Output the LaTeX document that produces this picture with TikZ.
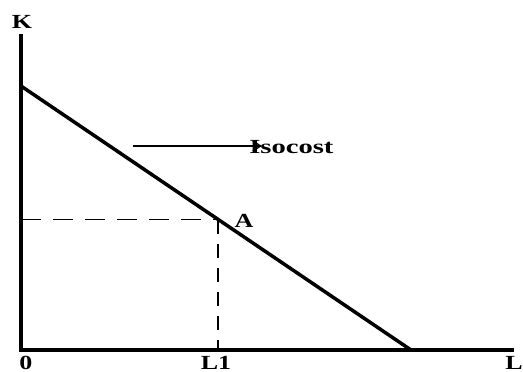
\documentclass[tikz,border=0pt]{standalone}
\usepackage{fontspec}
\setmainfont{Liberation Serif}
\usetikzlibrary{arrows.meta}
\tikzset{
  axis/.style={line width=3.5pt, line cap=rect},
  budget/.style={line width=3.5pt},
  guide/.style={line width=1.2pt, dash pattern=on 20pt off 12pt},
  vguide/.style={line width=1.2pt, dash pattern=on 14pt off 10pt},
  flow/.style={-{Straight Barb[length=8pt,width=10pt]}, line width=1.3pt},
  lbl/.style={inner sep=0pt, anchor=base, xscale=1.3,
    font=\fontsize{20}{22}\selectfont\bfseries}
}
\begin{document}
\begin{tikzpicture}[x=1pt, y=-1pt]
        \useasboundingbox (0,0) rectangle (523,372);
        % axes
        \coordinate (origin) at (21,350);
        \coordinate (ktop) at (21,36);
        \coordinate (lend) at (512,350);
        \draw[axis] (ktop) -- (origin) -- (lend);
        \node[lbl] (klabel) at (22,28) {K};
        \node[lbl] (zero) at (26,369) {0};
        \node[lbl] (llabel) at (514,369) {L};
        % isocost line and optimum
        \coordinate (kint) at (21,86);
        \coordinate (lint) at (411,350);
        \draw[budget] (kint) -- (lint);
        \coordinate (pA) at (218,219.5);
        \coordinate (kA) at (21,219.5);
        \coordinate (lA) at (218,350);
        \draw[guide] (kA) -- (pA);
        \draw[vguide] (pA) -- (lA);
        \node[lbl] (alabel) at (244,227) {A};
        \node[lbl] (l1label) at (216,369) {L1};
        % label with arrow
        \node[lbl, anchor=base west, xscale=1.1] (iso) at (249,153) {Isocost};
        \coordinate (arrstart) at (133,146);
        \coordinate (arrend) at (262,146);
        \draw[flow] (arrstart) -- (arrend);
\end{tikzpicture}
\end{document}
